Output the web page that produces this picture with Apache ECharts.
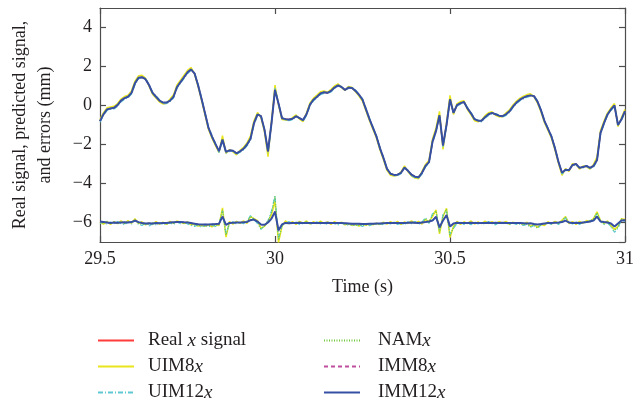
<!DOCTYPE html>
<html>
<head>
<meta charset="utf-8">
<script src="https://cdn.jsdelivr.net/npm/echarts@6/dist/echarts.min.js"></script>
<style>
  html, body { margin: 0; padding: 0; background: #fff; }
  #main { width: 637px; height: 408px; }
</style>
</head>
<body>
<div id="main"></div>
<script>
// sampling of the traces (s)
const t0 = 29.5
const dt = 0.01
// error traces are drawn shifted down to this level
const errorOffset = -6

// real x signal (IMM12x lies right on top of it)
const realX = [
  -0.80, -0.45, -0.20, -0.15, -0.12, 0.02, 0.25, 0.38, 0.45, 0.65,
  1.15, 1.42, 1.45, 1.35, 1.05, 0.65, 0.45, 0.25, 0.15, 0.15,
  0.25, 0.45, 0.95, 1.20, 1.45, 1.70, 1.85, 1.65, 1.05, 0.35,
  -0.40, -1.15, -1.60, -1.98, -2.34, -1.75, -2.38, -2.30, -2.32, -2.45,
  -2.35, -2.22, -2.00, -1.70, -0.90, -0.46, -0.55, -1.25, -2.35, -0.90,
  0.80, 0.10, -0.65, -0.70, -0.72, -0.68, -0.55, -0.65, -0.75, -0.45,
  0.05, 0.30, 0.45, 0.62, 0.68, 0.65, 0.75, 0.92, 1.03, 0.95,
  0.80, 0.92, 0.90, 0.75, 0.55, 0.30, -0.20, -0.70, -1.15, -1.60,
  -2.20, -2.70, -3.25, -3.50, -3.56, -3.55, -3.45, -3.18, -3.35, -3.55,
  -3.65, -3.68, -3.45, -3.10, -2.90, -1.85, -1.30, -0.50, -2.05, -1.00,
  0.32, -0.38, 0.02, 0.12, 0.18, -0.15, -0.40, -0.70, -0.78, -0.78,
  -0.60, -0.45, -0.38, -0.45, -0.52, -0.55, -0.45, -0.30, -0.05, 0.15,
  0.30, 0.40, 0.48, 0.52, 0.48, 0.20, -0.25, -0.80, -1.20, -1.60,
  -2.20, -2.90, -3.45, -3.30, -3.32, -3.05, -3.00, -3.20, -3.15, -3.10,
  -3.20, -3.10, -2.80, -1.40, -0.90, -0.46, -0.20, 0.00, -1.00, -0.70,
  -0.29
]

// UIM8x prediction (yellow fringe, slightly ahead / overshooting)
const predUIM8 = [
  -0.72, -0.37, -0.12, -0.08, -0.04, 0.10, 0.33, 0.46, 0.53, 0.75,
  1.25, 1.52, 1.55, 1.40, 1.00, 0.58, 0.38, 0.18, 0.08, 0.12,
  0.33, 0.55, 1.05, 1.30, 1.55, 1.80, 1.95, 1.62, 0.98, 0.28,
  -0.48, -1.23, -1.68, -2.06, -2.42, -1.55, -2.46, -2.26, -2.38, -2.53,
  -2.30, -2.14, -1.92, -1.55, -0.78, -0.36, -0.62, -1.35, -2.62, -0.80,
  1.05, 0.02, -0.72, -0.74, -0.76, -0.62, -0.48, -0.70, -0.83, -0.37,
  0.13, 0.38, 0.53, 0.70, 0.74, 0.68, 0.83, 1.00, 1.11, 0.92,
  0.78, 0.98, 0.92, 0.70, 0.48, 0.22, -0.28, -0.78, -1.23, -1.68,
  -2.28, -2.78, -3.33, -3.58, -3.62, -3.58, -3.40, -3.10, -3.40, -3.62,
  -3.72, -3.76, -3.38, -3.02, -2.80, -1.72, -1.15, -0.30, -2.25, -0.90,
  0.52, -0.46, 0.10, 0.20, 0.24, -0.22, -0.48, -0.78, -0.84, -0.76,
  -0.52, -0.37, -0.32, -0.50, -0.58, -0.58, -0.37, -0.22, 0.03, 0.23,
  0.38, 0.48, 0.56, 0.60, 0.46, 0.12, -0.33, -0.88, -1.28, -1.68,
  -2.28, -2.98, -3.58, -3.24, -3.38, -2.98, -3.02, -3.26, -3.10, -3.14,
  -3.26, -3.02, -2.65, -1.28, -0.80, -0.38, -0.12, 0.10, -1.08, -0.62,
  -0.20
]

// UIM12x prediction (cyan, slightly lagging)
const predUIM12 = [
  -0.86, -0.52, -0.26, -0.20, -0.18, -0.05, 0.18, 0.32, 0.39, 0.58,
  1.06, 1.36, 1.44, 1.40, 1.10, 0.70, 0.50, 0.30, 0.10, 0.10,
  0.19, 0.38, 0.87, 1.14, 1.38, 1.63, 1.80, 1.70, 1.12, 0.42,
  -0.34, -1.08, -1.54, -1.92, -2.42, -1.85, -2.45, -2.36, -2.36, -2.52,
  -2.40, -2.28, -2.07, -1.80, -1.00, -0.52, -0.50, -1.18, -2.45, -1.00,
  0.90, 0.15, -0.60, -0.76, -0.78, -0.74, -0.60, -0.62, -0.82, -0.52,
  -0.02, 0.24, 0.39, 0.56, 0.62, 0.62, 0.69, 0.86, 0.98, 0.98,
  0.84, 0.86, 0.94, 0.80, 0.60, 0.35, -0.14, -0.64, -1.10, -1.55,
  -2.14, -2.64, -3.20, -3.46, -3.62, -3.60, -3.50, -3.24, -3.32, -3.60,
  -3.70, -3.74, -3.52, -3.16, -2.96, -1.94, -1.38, -0.58, -2.15, -1.08,
  0.24, -0.32, -0.04, 0.06, 0.14, -0.10, -0.35, -0.65, -0.74, -0.84,
  -0.66, -0.51, -0.44, -0.41, -0.48, -0.60, -0.51, -0.36, -0.11, 0.09,
  0.24, 0.34, 0.42, 0.48, 0.50, 0.25, -0.20, -0.75, -1.15, -1.55,
  -2.15, -2.85, -3.52, -3.36, -3.28, -3.11, -3.05, -3.16, -3.20, -3.08,
  -3.25, -3.16, -2.88, -1.50, -0.96, -0.52, -0.26, -0.04, -0.95, -0.78,
  -0.35
]

// NAMx, IMM8x and IMM12x cannot be told apart from the real signal at this scale
const predNAM = realX
const predIMM8 = realX
const predIMM12 = realX

// prediction errors (mm)
const errUIM8 = [
  0.02, -0.08, 0.05, -0.10, 0.04, -0.06, 0.08, -0.05, 0.10, -0.04,
  0.20, -0.06, 0.04, -0.12, -0.02, -0.10, 0.05, -0.08, 0.02, -0.10,
  0.06, -0.04, 0.08, 0.02, -0.05, 0.03, -0.12, -0.08, -0.18, -0.14,
  -0.20, -0.12, -0.22, -0.10, -0.15, 0.75, -0.75, 0.05, -0.08, 0.06,
  -0.05, 0.08, -0.04, 0.30, 0.20, 0.10, -0.30, -0.20, 0.05, 0.40,
  1.10, -1.03, -0.20, 0.08, -0.06, 0.05, -0.10, 0.06, -0.04, 0.08,
  -0.08, 0.04, -0.06, 0.07, -0.05, 0.03, -0.10, 0.05, -0.06, 0.02,
  -0.12, -0.06, -0.15, -0.10, -0.18, -0.08, -0.14, -0.06, -0.12, -0.04,
  -0.10, 0.02, -0.08, 0.05, -0.06, 0.06, -0.10, 0.03, -0.05, 0.08,
  -0.04, 0.06, -0.08, 0.15, 0.05, 0.30, 0.65, -0.58, 0.30, 0.73,
  -0.77, -0.20, 0.06, -0.10, 0.04, -0.06, 0.08, -0.08, 0.03, -0.06,
  0.07, -0.05, 0.04, -0.08, 0.05, -0.04, 0.06, -0.10, 0.02, -0.06,
  -0.02, -0.12, 0.02, -0.20, -0.08, -0.25, -0.10, -0.15, 0.04, -0.08,
  0.06, -0.05, 0.12, 0.30, -0.06, 0.05, -0.10, 0.06, -0.04, 0.10,
  0.04, 0.20, 0.55, 0.10, -0.05, 0.08, -0.15, -0.35, -0.20, 0.20,
  0.15
]
const errUIM12 = [
  -0.05, 0.04, -0.10, 0.02, -0.08, 0.05, -0.06, -0.12, 0.03, -0.08,
  0.12, -0.10, -0.15, -0.05, -0.18, -0.08, -0.12, -0.02, -0.10, -0.06,
  -0.02, -0.10, 0.03, -0.06, 0.05, -0.08, -0.15, -0.20, -0.12, -0.25,
  -0.15, -0.22, -0.14, -0.20, -0.10, 0.60, -0.60, -0.05, 0.04, -0.08,
  0.03, -0.06, 0.08, 0.35, 0.15, -0.05, -0.35, -0.15, 0.10, 0.60,
  1.37, -0.80, -0.15, -0.05, 0.05, -0.08, 0.03, -0.10, -0.05, 0.02,
  -0.10, -0.04, 0.03, -0.08, -0.02, -0.10, 0.02, -0.06, -0.12, -0.03,
  -0.08, -0.14, -0.10, -0.16, -0.12, -0.20, -0.10, -0.16, -0.08, -0.10,
  -0.06, -0.12, 0.00, -0.08, 0.02, -0.10, -0.04, -0.12, 0.04, -0.06,
  0.05, -0.10, 0.02, 0.25, -0.05, 0.45, 0.55, -0.45, 0.40, 0.60,
  -0.60, -0.30, -0.05, 0.03, -0.10, -0.02, -0.12, 0.04, -0.08, 0.00,
  -0.10, 0.05, -0.06, -0.12, 0.00, -0.08, -0.02, -0.12, -0.04, -0.10,
  -0.08, -0.15, -0.10, -0.25, -0.15, -0.30, -0.12, -0.08, -0.02, -0.10,
  0.02, -0.10, 0.05, 0.25, 0.00, -0.08, 0.04, -0.10, 0.02, -0.04,
  0.10, 0.15, 0.45, 0.05, -0.10, 0.00, -0.25, -0.50, -0.30, 0.15,
  0.05
]
const errNAM = [
  0.00, -0.06, 0.06, -0.04, 0.02, -0.08, 0.04, -0.06, 0.05, -0.02,
  0.15, -0.04, -0.10, -0.08, -0.12, -0.02, -0.08, -0.06, -0.04, -0.10,
  0.02, -0.05, 0.04, 0.00, -0.06, 0.02, -0.10, -0.14, -0.16, -0.18,
  -0.18, -0.16, -0.18, -0.14, -0.12, 0.65, -0.65, 0.00, -0.04, 0.02,
  -0.02, 0.04, 0.02, 0.32, 0.18, 0.02, -0.32, -0.18, 0.08, 0.50,
  1.35, -0.90, -0.18, 0.02, -0.02, 0.00, -0.06, 0.02, -0.04, 0.04,
  -0.06, 0.00, -0.04, 0.02, -0.06, -0.02, -0.04, -0.02, -0.08, 0.00,
  -0.10, -0.10, -0.12, -0.14, -0.15, -0.14, -0.12, -0.12, -0.10, -0.08,
  -0.08, -0.06, -0.04, -0.04, -0.02, -0.04, -0.06, -0.04, 0.00, -0.02,
  0.00, -0.04, -0.02, 0.20, 0.00, 0.40, 0.60, -0.50, 0.35, 0.68,
  -0.70, -0.25, 0.00, -0.04, -0.04, -0.04, -0.02, -0.04, -0.04, -0.02,
  -0.02, -0.02, -0.02, -0.06, -0.02, -0.04, -0.02, -0.06, -0.02, -0.04,
  -0.06, -0.10, -0.06, -0.22, -0.12, -0.28, -0.10, -0.10, 0.00, -0.06,
  0.04, -0.06, 0.08, 0.28, -0.02, 0.00, -0.04, -0.02, 0.00, 0.04,
  0.08, 0.18, 0.50, 0.08, -0.08, 0.04, -0.20, -0.42, -0.25, 0.18,
  0.10
]
const errIMM8 = [
  0.04, 0.03, 0.01, -0.02, 0.00, -0.02, 0.00, 0.01, 0.01, 0.02,
  0.11, 0.02, -0.03, -0.05, -0.05, -0.05, -0.03, -0.04, -0.03, -0.02,
  0.00, 0.01, 0.02, 0.03, 0.01, 0.00, -0.04, -0.07, -0.09, -0.11,
  -0.10, -0.11, -0.10, -0.08, -0.07, 0.32, -0.14, -0.03, -0.01, 0.00,
  0.00, 0.01, 0.03, 0.13, 0.15, 0.05, -0.11, -0.12, 0.01, 0.22,
  0.58, -0.42, -0.10, -0.02, -0.04, -0.02, -0.03, -0.01, -0.03, -0.02,
  -0.02, -0.03, -0.02, -0.03, -0.02, -0.01, -0.02, -0.03, -0.02, -0.03,
  -0.04, -0.05, -0.07, -0.07, -0.08, -0.08, -0.08, -0.07, -0.06, -0.05,
  -0.05, -0.04, -0.03, -0.03, -0.02, -0.02, -0.03, -0.02, -0.01, 0.00,
  -0.01, -0.02, 0.00, 0.03, 0.05, 0.11, 0.31, -0.26, 0.11, 0.39,
  -0.22, -0.05, -0.01, -0.02, -0.03, -0.02, -0.01, -0.02, -0.03, -0.02,
  -0.02, -0.01, -0.02, -0.01, -0.02, -0.01, -0.02, -0.03, -0.02, -0.02,
  -0.03, -0.04, -0.05, -0.05, -0.09, -0.11, -0.08, -0.05, -0.03, -0.02,
  -0.01, 0.00, 0.02, 0.11, 0.00, -0.02, -0.01, -0.02, 0.00, 0.02,
  0.05, 0.11, 0.32, 0.05, 0.02, 0.00, -0.05, -0.22, -0.05, 0.10,
  0.12
]
const errIMM12 = [
  0.05, 0.03, 0.00, -0.02, 0.00, -0.01, 0.00, 0.01, 0.00, 0.02,
  0.10, 0.02, -0.03, -0.05, -0.04, -0.05, -0.03, -0.04, -0.02, -0.02,
  0.00, 0.01, 0.02, 0.03, 0.01, 0.00, -0.03, -0.06, -0.09, -0.10,
  -0.10, -0.10, -0.09, -0.08, -0.06, 0.30, -0.12, -0.02, -0.01, 0.00,
  0.00, 0.01, 0.03, 0.12, 0.15, 0.05, -0.10, -0.12, 0.00, 0.20,
  0.55, -0.40, -0.10, -0.02, -0.04, -0.02, -0.03, -0.01, -0.03, -0.02,
  -0.02, -0.03, -0.02, -0.03, -0.02, -0.01, -0.02, -0.03, -0.02, -0.03,
  -0.04, -0.05, -0.06, -0.07, -0.07, -0.08, -0.08, -0.07, -0.06, -0.05,
  -0.05, -0.04, -0.03, -0.03, -0.02, -0.02, -0.03, -0.02, -0.01, 0.00,
  -0.01, -0.02, 0.00, 0.02, 0.05, 0.10, 0.29, -0.24, 0.10, 0.37,
  -0.20, -0.05, -0.01, -0.02, -0.03, -0.02, -0.01, -0.02, -0.03, -0.02,
  -0.02, -0.01, -0.02, -0.01, -0.02, -0.01, -0.02, -0.03, -0.02, -0.02,
  -0.03, -0.04, -0.05, -0.04, -0.08, -0.10, -0.08, -0.05, -0.03, -0.02,
  -0.01, 0.00, 0.02, 0.10, 0.00, -0.02, -0.01, -0.02, 0.00, 0.02,
  0.05, 0.10, 0.30, 0.05, 0.02, 0.00, -0.05, -0.20, -0.05, 0.10,
  0.12
]

const serif = 'Liberation Serif'
const textColor = '#231f20'
const axisColor = '#4d4d4d'

// series name -> look
const styles = {
  'Real x signal': { color: '#ff3b3b', width: 1.4, type: 'solid', rich: '{n|Real }{i|x}{n| signal}' },
  'UIM8x': { color: '#e9e51c', width: 1.5, type: 'solid', rich: '{n|UIM8}{i|x}' },
  'UIM12x': { color: '#5ec8d4', width: 1.2, type: [5, 2, 1, 2], rich: '{n|UIM12}{i|x}' },
  'NAMx': { color: '#72c83a', width: 1.2, type: [1, 1.5], rich: '{n|NAM}{i|x}' },
  'IMM8x': { color: '#bf4f9e', width: 1.2, type: [4, 3], rich: '{n|IMM8}{i|x}' },
  'IMM12x': { color: '#3550a3', width: 2, type: 'solid', rich: '{n|IMM12}{i|x}' }
}

function toPairs (vals, offset) {
  return vals.map((v, i) => [+(t0 + i * dt).toFixed(2), v + offset])
}

function lineSeries (name, vals, offset) {
  const s = styles[name]
  return {
    name: name,
    type: 'line',
    showSymbol: false,
    symbol: 'none',
    color: s.color,
    lineStyle: { color: s.color, width: s.width, type: s.type },
    data: toPairs(vals, offset || 0)
  }
}

const seriesOpts = [
  lineSeries('Real x signal', realX),
  lineSeries('UIM8x', predUIM8),
  lineSeries('UIM12x', predUIM12),
  lineSeries('NAMx', predNAM),
  lineSeries('IMM8x', predIMM8),
  lineSeries('IMM12x', predIMM12),
  lineSeries('UIM8x', errUIM8, errorOffset),
  lineSeries('UIM12x', errUIM12, errorOffset),
  lineSeries('NAMx', errNAM, errorOffset),
  lineSeries('IMM8x', errIMM8, errorOffset),
  lineSeries('IMM12x', errIMM12, errorOffset)
]

function legendOpts (names, left, gap) {
  return {
    data: names,
    orient: 'vertical',
    left: left,
    top: 331,
    height: 76,
    padding: 0,
    itemWidth: 36,
    itemHeight: 14,
    itemGap: 7,
    selectedMode: false,
    itemStyle: { opacity: 0 },
    formatter: name => styles[name].rich,
    textStyle: {
      padding: [0, 0, 0, gap],
      rich: {
        n: { fontFamily: serif, fontSize: 19, color: textColor },
        i: { fontFamily: serif, fontSize: 19, color: textColor, fontStyle: 'italic' }
      }
    }
  }
}

const axisLineOpts = { show: true, onZero: false, lineStyle: { color: axisColor, width: 1.2 } }
const tickOpts = { show: true, inside: true, length: 6, lineStyle: { color: axisColor, width: 1.2 } }
const labelFont = { fontFamily: serif, fontSize: 18, color: textColor }
const fmtNum = v => (v < 0 ? '\u2212' + (-v) : String(v))

const chart = echarts.init(document.getElementById('main'), null, { renderer: 'canvas' })
chart.setOption({
  animation: false,
  backgroundColor: '#fff',
  grid: { left: 98, right: 10, top: 8, bottom: 166, containLabel: false },
  legend: [
    legendOpts(['Real x signal', 'UIM8x', 'UIM12x'], 97, 9),
    legendOpts(['NAMx', 'IMM8x', 'IMM12x'], 323, 13)
  ],
  xAxis: [
    {
      type: 'value',
      min: 29.5,
      max: 31,
      interval: 0.5,
      axisLine: axisLineOpts,
      axisTick: tickOpts,
      splitLine: { show: false },
      axisLabel: Object.assign({ margin: 8, formatter: fmtNum }, labelFont),
      name: 'Time (s)',
      nameLocation: 'middle',
      nameGap: 36,
      nameTextStyle: labelFont
    },
    {
      type: 'value',
      position: 'top',
      min: 29.5,
      max: 31,
      interval: 0.5,
      axisLine: axisLineOpts,
      axisTick: tickOpts,
      splitLine: { show: false },
      axisLabel: { show: false }
    }
  ],
  yAxis: [
    {
      type: 'value',
      min: -7,
      max: 5,
      splitNumber: 6,
      axisLine: axisLineOpts,
      axisTick: tickOpts,
      splitLine: { show: false },
      axisLabel: Object.assign({
        margin: 8,
        showMinLabel: false,
        showMaxLabel: false,
        formatter: v => (v % 2 === 0 ? fmtNum(v) : '')
      }, labelFont),
      name: 'Real signal, predicted signal,\nand errors (mm)',
      nameLocation: 'middle',
      nameGap: 42,
      nameTextStyle: Object.assign({ lineHeight: 25 }, labelFont)
    },
    {
      type: 'value',
      position: 'right',
      min: -7,
      max: 5,
      splitNumber: 6,
      axisLine: axisLineOpts,
      axisTick: tickOpts,
      splitLine: { show: false },
      axisLabel: { show: false }
    }
  ],
  series: seriesOpts
})
</script>
</body>
</html>
